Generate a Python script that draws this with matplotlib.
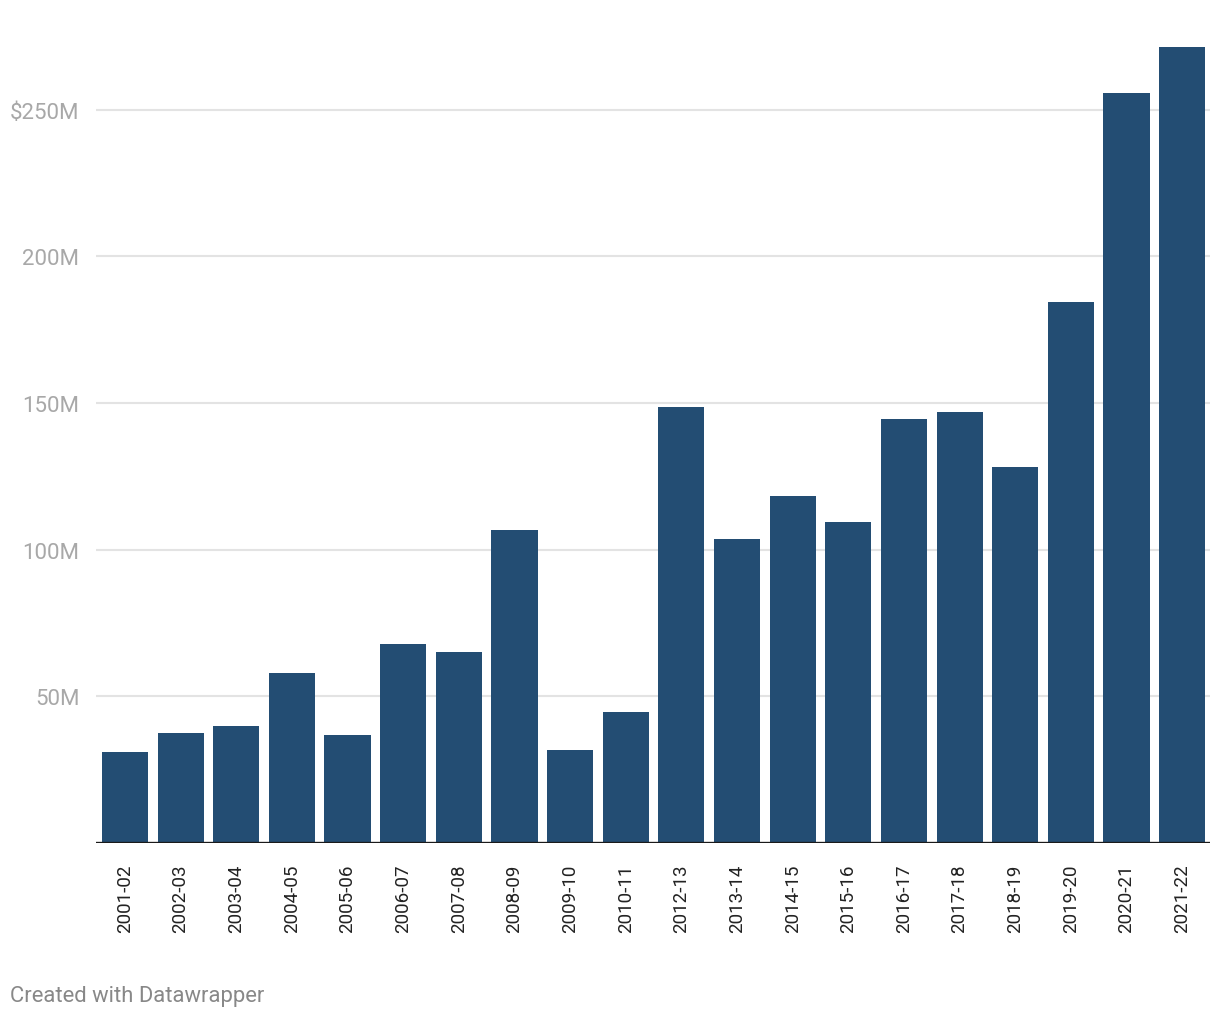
import matplotlib.pyplot as plt
import numpy as np

plt.rcParams['font.family'] = ['Roboto', 'DejaVu Sans']

# fiscal years (no 2011-12 in the source)
years = ["2001-02", "2002-03", "2003-04", "2004-05", "2005-06", "2006-07",
         "2007-08", "2008-09", "2009-10", "2010-11", "2012-13", "2013-14",
         "2014-15", "2015-16", "2016-17", "2017-18", "2018-19", "2019-20",
         "2020-21", "2021-22"]
# values in millions of dollars
values = [31.1, 37.6, 39.7, 57.8, 36.6, 67.7, 65.0, 106.7, 31.5, 44.5,
          148.8, 103.6, 118.3, 109.4, 144.7, 147.1, 128.2, 184.3, 255.8, 271.5]

y_ticks = [50, 100, 150, 200, 250]
y_labels = ["50M", "100M", "150M", "200M", "$250M"]

fig = plt.figure(figsize=(12.2, 10.2), dpi=100)
ax = fig.add_axes([0.0787, 0.1728, 0.9131, 0.8047])

x = np.arange(len(years))
ax.bar(x, values, width=0.83, color="#234d73", zorder=3)

ax.set_xlim(-0.52, len(years) - 0.5)
ax.set_ylim(0, 280)

# grid lines
for t in y_ticks:
    ax.axhline(t, color="#e3e3e3", linewidth=1.5, zorder=1)
ax.axhline(0, color="#1a1a1a", linewidth=2.4, zorder=4)

ax.set_yticks(y_ticks)
ax.set_yticklabels(y_labels, color="#a8a8a8", fontsize=16)
ax.tick_params(axis="y", length=0, pad=12)

ax.set_xticks(x)
ax.set_xticklabels(years, rotation=90, fontsize=13.5, color="#222222")
ax.tick_params(axis="x", length=0, pad=15)

for s in ax.spines.values():
    s.set_visible(False)

fig.text(10 / 1220, 1 - 997 / 1020, "Created with Datawrapper", color="#888888",
         fontsize=15.8, va="center", ha="left")

plt.savefig("out.png", dpi=100)
